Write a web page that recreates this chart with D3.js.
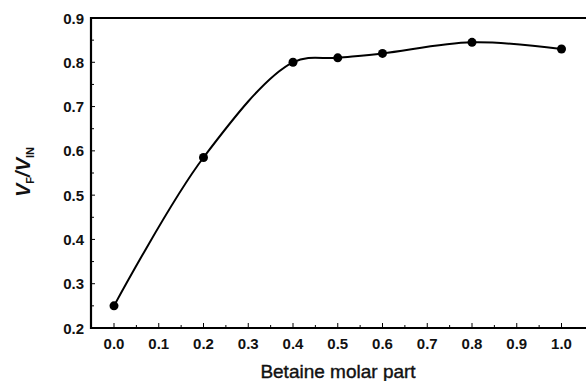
<!DOCTYPE html>
<html>
<head>
<meta charset="utf-8">
<script src="https://cdn.jsdelivr.net/npm/d3@7"></script>
<style>
  body { margin: 0; background: #fff; }
  text { font-family: "Liberation Sans", Arial, sans-serif; font-weight: bold; fill: #111; }
</style>
</head>
<body>
<svg id="chart" width="586" height="381"></svg>
<script>
// data
var betaine = [0.0, 0.2, 0.4, 0.5, 0.6, 0.8, 1.0];
var ratio = [0.25, 0.585, 0.80, 0.81, 0.82, 0.845, 0.83];
var xTicks = [0, 0.1, 0.2, 0.3, 0.4, 0.5, 0.6, 0.7, 0.8, 0.9, 1.0];
var yTicks = [0.2, 0.3, 0.4, 0.5, 0.6, 0.7, 0.8, 0.9];

var svg = d3.select("#chart");

var plotL = 91, plotT = 18, plotB = 328, plotR = 586;

var x = d3.scaleLinear().domain([0, 1]).range([114, 561.5]);
var y = d3.scaleLinear().domain([0.2, 0.9]).range([plotB, plotT]);

// frame: left, bottom, top (right is cut off)
svg.append("path")
   .attr("d", "M" + plotR + "," + plotT + "H" + plotL + "V" + plotB + "H" + plotR)
   .attr("fill", "none")
   .attr("stroke", "#000")
   .attr("stroke-width", 2.2);

// x ticks (inward)
var xMinor = d3.range(0.05, 1.0, 0.1);
svg.selectAll(".xmaj").data(xTicks).enter().append("line")
   .attr("x1", function(d){ return x(d); }).attr("x2", function(d){ return x(d); })
   .attr("y1", plotB).attr("y2", plotB - 5)
   .attr("stroke", "#000").attr("stroke-width", 1);
svg.selectAll(".xmin").data(xMinor).enter().append("line")
   .attr("x1", function(d){ return x(d); }).attr("x2", function(d){ return x(d); })
   .attr("y1", plotB).attr("y2", plotB - 3)
   .attr("stroke", "#000").attr("stroke-width", 1);
svg.selectAll(".xlab").data(xTicks).enter().append("text")
   .attr("x", function(d){ return x(d); })
   .attr("y", 349)
   .attr("text-anchor", "middle")
   .attr("font-size", 15)
   .text(function(d){ return d.toFixed(1); });

// y ticks (inward)
var yMinor = d3.range(0.25, 0.9, 0.1);
svg.selectAll(".ymaj").data(yTicks).enter().append("line")
   .attr("x1", plotL).attr("x2", plotL + 4)
   .attr("y1", function(d){ return y(d); }).attr("y2", function(d){ return y(d); })
   .attr("stroke", "#000").attr("stroke-width", 1);
svg.selectAll(".ymin").data(yMinor).enter().append("line")
   .attr("x1", plotL).attr("x2", plotL + 3)
   .attr("y1", function(d){ return y(d); }).attr("y2", function(d){ return y(d); })
   .attr("stroke", "#000").attr("stroke-width", 1);
svg.selectAll(".ylab").data(yTicks).enter().append("text")
   .attr("x", 84)
   .attr("y", function(d){ return y(d) + 5.5; })
   .attr("text-anchor", "end")
   .attr("font-size", 15)
   .text(function(d){ return d.toFixed(1); });

// axis titles
svg.append("text")
   .attr("x", 338).attr("y", 378)
   .attr("text-anchor", "middle")
   .attr("font-size", 19)
   .style("font-weight", "normal")
   .style("stroke", "#111").style("stroke-width", 0.4)
   .text("Betaine molar part");

var yt = svg.append("text")
   .attr("transform", "translate(30,172) rotate(-90)")
   .attr("text-anchor", "middle")
   .attr("font-size", 20)
   .style("font-style", "italic");
yt.append("tspan").text("V");
yt.append("tspan").attr("font-size", 11).attr("dy", 4).style("font-style", "normal").text("F");
yt.append("tspan").attr("dy", -4).text("/V");
yt.append("tspan").attr("font-size", 11).attr("dy", 4).style("font-style", "normal").text("IN");

// curve
var pts = betaine.map(function(d, i){ return [d, ratio[i]]; });
var line = d3.line()
   .x(function(d){ return x(d[0]); })
   .y(function(d){ return y(d[1]); })
   .curve(d3.curveCatmullRom.alpha(0.5));

svg.append("path")
   .datum(pts)
   .attr("d", line)
   .attr("fill", "none")
   .attr("stroke", "#000")
   .attr("stroke-width", 2);

svg.selectAll(".dot").data(pts).enter().append("circle")
   .attr("cx", function(d){ return x(d[0]); })
   .attr("cy", function(d){ return y(d[1]); })
   .attr("r", 4.5)
   .attr("fill", "#000");
</script>
</body>
</html>
